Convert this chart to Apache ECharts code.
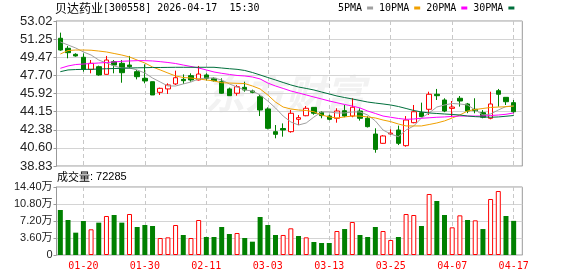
<!DOCTYPE html>
<html><head><meta charset="utf-8">
<script src="https://cdn.jsdelivr.net/npm/echarts@6/dist/echarts.min.js"></script>
<style>html,body{margin:0;padding:0;background:#fff}#c{width:578px;height:276px}</style>
</head><body><div id="c"></div>
<script>
const titleName = '贝达药业';
const titleRest = '[300558] 2026-04-17  15:30';
const volTitle = '成交量: 72285';
const dates = ['01-15','01-16','01-19','01-20','01-21','01-22','01-23','01-26','01-27','01-28','01-29','01-30',
'02-02','02-03','02-04','02-05','02-06','02-09','02-10','02-11','02-12','02-13',
'02-24','02-25','02-26','02-27',
'03-02','03-03','03-04','03-05','03-06','03-09','03-10','03-11','03-12','03-13','03-16','03-17','03-18','03-19','03-20','03-23','03-24','03-25','03-26','03-27','03-30','03-31',
'04-01','04-02','04-03','04-07','04-08','04-09','04-10','04-13','04-14','04-15','04-16','04-17'];
const opens  = [51.33,50.35,49.76,49.47,48.29,48.55,47.80,49.04,48.88,48.71,48.06,47.41,47.08,46.04,46.37,46.86,47.31,47.67,47.25,47.74,47.41,47.08,46.37,45.95,46.53,46.17,45.61,44.41,42.19,42.50,42.19,43.40,43.75,44.57,44.09,43.72,43.50,44.24,43.72,44.21,43.50,41.96,41.05,41.97,42.35,40.82,43.07,44.05,44.38,45.85,45.29,44.47,45.46,44.90,44.38,44.05,43.50,46.20,45.55,45.03];
const closes = [50.18,49.92,49.60,48.29,48.88,47.74,49.20,48.71,47.96,48.55,47.57,47.15,45.78,46.43,46.76,47.47,47.18,47.25,47.83,47.41,47.18,45.95,45.71,46.59,46.27,46.04,44.31,42.52,41.93,42.35,43.99,43.56,44.48,43.99,43.76,43.40,44.21,43.72,44.58,43.50,42.68,40.46,41.77,42.05,41.05,43.33,44.14,43.66,45.85,45.71,44.21,44.60,45.19,44.21,44.25,43.60,44.90,45.85,45.12,44.14];
const lows   = [50.11,49.37,49.53,48.06,47.90,47.67,47.78,47.90,46.98,48.39,47.31,46.92,45.78,45.78,45.88,46.76,46.86,47.08,47.20,47.20,47.10,45.90,45.70,45.71,46.10,45.95,43.72,42.42,41.54,41.70,42.09,42.84,43.70,43.85,43.50,43.30,43.07,43.60,43.60,43.27,42.60,40.13,41.00,41.87,40.88,40.72,43.01,43.60,43.82,45.29,44.10,43.60,44.64,44.00,43.99,43.50,43.40,44.64,44.80,43.99];
const highs  = [51.88,50.57,49.86,49.86,49.20,48.65,49.60,49.20,49.20,49.60,48.23,48.78,47.08,46.50,46.92,48.16,47.80,47.90,48.62,47.90,47.50,47.41,46.50,46.76,47.08,46.30,45.78,44.57,42.84,43.00,44.31,43.82,44.70,44.60,44.20,43.85,44.48,44.80,45.46,44.48,43.70,42.52,41.85,42.42,42.78,43.72,44.80,45.03,46.10,46.37,45.46,45.19,45.68,45.00,45.46,44.30,46.10,46.37,45.55,45.29];
const volumes = [9.53,7.41,4.73,7.20,5.44,6.85,8.26,8.47,6.85,8.68,5.93,6.35,6.14,3.60,3.74,6.35,4.24,3.60,7.41,3.81,3.81,5.93,4.45,4.66,3.60,2.82,8.05,6.35,4.24,4.24,5.65,4.02,3.74,2.75,2.54,2.54,5.08,5.50,6.99,4.24,3.81,5.93,5.08,3.18,3.81,8.68,8.47,6.14,12.92,11.44,8.47,5.86,8.40,7.41,7.34,5.50,11.86,13.55,8.26,7.2285];
const ma5  = [50.97,50.67,50.38,49.99,49.69,49.20,48.91,48.62,48.42,48.42,48.23,47.93,47.44,47.05,46.66,46.66,46.86,47.05,47.35,47.44,47.44,47.25,46.86,46.56,46.27,46.17,45.78,45.19,44.51,43.72,43.14,42.84,43.04,43.62,44.12,44.12,44.02,44.02,44.12,44.12,43.82,43.24,42.35,41.96,41.70,42.35,42.75,43.53,44.02,44.60,44.80,44.95,44.90,44.80,44.31,43.82,43.92,44.31,44.65,44.70];
const ma10 = [49.79,50.13,50.18,50.18,50.16,50.08,49.99,49.84,49.69,49.50,49.20,48.91,48.52,48.23,47.93,47.64,47.49,47.44,47.35,47.25,47.15,46.98,46.95,46.92,46.90,46.66,46.37,45.78,45.09,44.60,44.41,44.31,44.26,44.14,43.82,43.63,43.53,43.63,43.72,43.72,43.63,43.53,43.33,43.17,42.94,42.75,42.75,42.75,42.89,43.04,43.24,43.53,43.82,44.21,44.36,44.46,44.56,44.60,44.63,44.70];
const ma20 = [48.39,48.62,48.76,48.81,48.86,48.91,48.96,49.01,49.08,49.11,49.14,49.14,49.11,49.04,48.96,48.86,48.71,48.57,48.42,48.23,48.03,47.90,47.79,47.69,47.64,47.54,47.35,46.95,46.66,46.42,46.17,45.98,45.78,45.58,45.39,45.19,45.02,44.85,44.70,44.51,44.21,43.97,43.72,43.60,43.48,43.40,43.43,43.50,43.55,43.60,43.63,43.68,43.72,43.72,43.72,43.72,43.77,43.82,43.89,44.02];
const ma30 = [48.06,48.23,48.27,48.29,48.29,48.32,48.35,48.37,48.39,48.42,48.44,48.45,48.47,48.47,48.48,48.49,48.49,48.49,48.49,48.49,48.49,48.42,48.35,48.29,48.18,47.98,47.74,47.49,47.25,47.00,46.76,46.56,46.42,46.27,46.07,45.88,45.68,45.53,45.39,45.24,45.09,44.99,44.90,44.80,44.65,44.46,44.26,44.12,44.02,43.97,43.92,43.87,43.82,43.72,43.66,43.63,43.60,43.63,43.70,43.77];
const priceTickLabels = ['38.83','40.60','42.38','44.15','45.92','47.70','49.47','51.25','53.02'];
const volTickLabels = ['0','3.60万','7.20万','10.80万','14.40万'];
const maNames = ['5PMA','10PMA','20PMA','30PMA'];

const priceMin = 38.83, priceMax = 53.02;
const pStep = (priceMax - priceMin) / (priceTickLabels.length - 1);
const priceTickValues = priceTickLabels.map((_, i) => priceMin + i * pStep);
const volMax = 14.4, volStep = 3.6;

const UP = '#ff0000', DOWN = '#008000';
const L = 56.5, FULLW = 465.8, DATAW = 461;
const TOP1 = 21, H1 = 145, TOP2 = 187, H2 = 68;
const markIdx = (i) => i % 8 === 3;

const kData = opens.map((o, i) => [o, closes[i], lows[i], highs[i]]);
const volData = volumes.map((v, i) => {
  const up = i > 0 && closes[i] >= closes[i - 1];
  return { value: v, itemStyle: up ? { color: '#ffffff', borderColor: UP, borderWidth: 1 } : { color: DOWN, borderColor: DOWN, borderWidth: 0 } };
});

const dashed = { show: true, interval: (i) => markIdx(i), alignWithLabel: true, lineStyle: { color: '#c8c8c8', type: [4, 3], width: 1 } };
const hidden = { show: false };
const MONO = '"DejaVu Sans Mono", monospace';
const CJK = '"Noto Sans CJK SC", sans-serif';

const chart = echarts.init(document.getElementById('c'), null, { renderer: 'canvas' });
chart.setOption({
  animation: false,
  backgroundColor: '#ffffff',
  title: [
    { text: '{c|' + titleName + '}{m|' + titleRest + '}', left: 55, top: 2, padding: 0,
      textStyle: { fontWeight: 'normal', rich: {
        c: { fontSize: 12, fontWeight: 'normal', color: '#000', fontFamily: CJK },
        m: { fontSize: 10, fontWeight: 'normal', color: '#000', fontFamily: MONO }
      } } },
    { text: '{c|成交量}{m|' + volTitle.slice(3) + '}', left: 57, top: 171, padding: 0,
      textStyle: { fontWeight: 'normal', rich: {
        c: { fontSize: 11, fontWeight: 'normal', color: '#000', fontFamily: CJK },
        m: { fontSize: 11, fontWeight: 'normal', color: '#000', fontFamily: '"Liberation Sans", sans-serif' }
      } } }
  ],
  legend: {
    data: maNames, left: 338, top: 3, padding: 0, align: 'right', icon: 'rect', itemWidth: 6, itemHeight: 3, itemGap: 6,
    textStyle: { fontSize: 10, color: '#000', fontFamily: MONO }, selectedMode: false
  },
  graphic: [
    { type: 'text', left: 205, top: 74, z: -10, silent: true, style: { text: '东方财富', fontSize: 40, fontWeight: 'bold', fontStyle: 'italic', fill: '#f2f2f2', fontFamily: '"Noto Sans CJK SC"' } }
  ],
  grid: [
    { left: L, top: TOP1, width: FULLW, height: H1, show: true, borderColor: '#999', borderWidth: 1, backgroundColor: 'transparent', outerBoundsMode: 'none' },
    { left: L, top: TOP1, width: DATAW, height: H1, outerBoundsMode: 'none' },
    { left: L, top: TOP2, width: FULLW, height: H2, show: true, borderColor: '#999', borderWidth: 1, backgroundColor: 'transparent', outerBoundsMode: 'none' },
    { left: L, top: TOP2, width: DATAW, height: H2, outerBoundsMode: 'none' }
  ],
  xAxis: [
    { gridIndex: 0, type: 'category', data: dates, show: false },
    { gridIndex: 1, type: 'category', data: dates, boundaryGap: true, axisLine: hidden, axisTick: hidden, axisLabel: hidden, splitLine: dashed },
    { gridIndex: 2, type: 'category', data: dates, show: false },
    { gridIndex: 3, type: 'category', data: dates, boundaryGap: true, axisLine: hidden, axisTick: hidden,
      axisLabel: { show: true, interval: (i) => markIdx(i), color: UP, fontSize: 10, margin: 6, fontFamily: MONO },
      splitLine: dashed }
  ],
  yAxis: [
    { gridIndex: 0, type: 'value', min: priceMin, max: priceMax, scale: true,
      axisLine: { show: true, lineStyle: { color: '#999' } },
      axisTick: { show: true, length: 3, customValues: priceTickValues, lineStyle: { color: '#999' } },
      axisLabel: { customValues: priceTickValues, margin: 4, fontSize: 13, color: '#222', fontFamily: '"Liberation Sans", Arial, sans-serif',
        formatter: (v) => priceTickLabels[Math.round((v - priceMin) / pStep)] },
      splitLine: { show: true, lineStyle: { color: '#d4d4d4', width: 1 } } },
    { gridIndex: 1, type: 'value', min: priceMin, max: priceMax, scale: true, show: false, splitLine: hidden },
    { gridIndex: 2, type: 'value', min: 0, max: volMax, interval: volStep,
      axisLine: { show: true, lineStyle: { color: '#999' } },
      axisTick: { show: true, length: 3, lineStyle: { color: '#999' } },
      axisLabel: { margin: 4, fontSize: 11, color: '#222', fontFamily: '"Liberation Sans", "Noto Sans CJK SC", sans-serif',
        formatter: (v) => volTickLabels[Math.round(v / volStep)] },
      splitLine: { show: true, lineStyle: { color: '#d4d4d4', width: 1 } } },
    { gridIndex: 3, type: 'value', min: 0, max: volMax, show: false, splitLine: hidden }
  ],
  series: [
    { type: 'candlestick', xAxisIndex: 1, yAxisIndex: 1, data: kData, barWidth: 5,
      itemStyle: { color: '#ffffff', color0: DOWN, borderColor: UP, borderColor0: DOWN, borderWidth: 1 } },
    { name: maNames[0], type: 'line', xAxisIndex: 1, yAxisIndex: 1, data: ma5, showSymbol: false, symbol: 'none', color: '#a0a0a0', lineStyle: { width: 1, color: '#a0a0a0' } },
    { name: maNames[1], type: 'line', xAxisIndex: 1, yAxisIndex: 1, data: ma10, showSymbol: false, symbol: 'none', color: '#f0a000', lineStyle: { width: 1, color: '#f0a000' } },
    { name: maNames[2], type: 'line', xAxisIndex: 1, yAxisIndex: 1, data: ma20, showSymbol: false, symbol: 'none', color: '#ff00ff', lineStyle: { width: 1, color: '#ff00ff' } },
    { name: maNames[3], type: 'line', xAxisIndex: 1, yAxisIndex: 1, data: ma30, showSymbol: false, symbol: 'none', color: '#006f3c', lineStyle: { width: 1, color: '#006f3c' } },
    { type: 'bar', xAxisIndex: 3, yAxisIndex: 3, data: volData, barWidth: 5 }
  ]
});
</script></body></html>
